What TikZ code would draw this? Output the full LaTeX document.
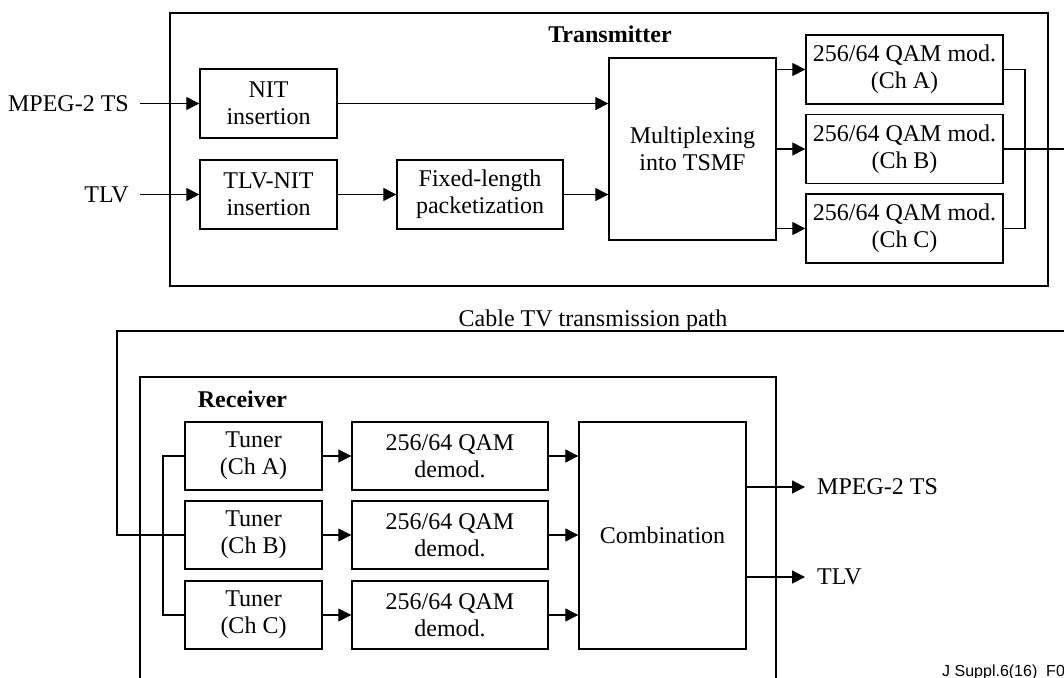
\documentclass[tikz,border=0pt]{standalone}
\usepackage{fontspec}
\setmainfont{Liberation Serif}
\newfontfamily\figidfont{Liberation Sans}
\usetikzlibrary{arrows.meta}

\begin{document}
\begin{tikzpicture}[x=1pt,y=-1pt,
  font=\fontsize{24}{27}\selectfont,
  blk/.style={draw, line width=1.4pt, align=center, inner sep=0pt, minimum height=69pt},
  frm/.style={line width=2.4pt},
  wire/.style={line width=1.3pt},
  arr/.style={wire, -{Triangle[length=13pt,width=13pt]}},
  lbl/.style={inner sep=0pt}]

  \useasboundingbox (0,0) rectangle (1064,677);
  \clip (0,0) rectangle (1064,677);

  % transmitter side
  \draw[frm] (170,13) rectangle (1048,286);% frame
  \node[lbl, anchor=base, font=\fontsize{24}{27}\selectfont\bfseries] (txlab) at (610,43) {Transmitter};
  \node[lbl, anchor=east] (tsin) at (129,103.5) {MPEG-2 TS};
  \node[lbl, anchor=east] (tlvin) at (129,194.5) {TLV};
  \node[blk, minimum width=137pt] (nit) at (268.5,103.5) {NIT\\insertion};
  \node[blk, minimum width=137pt] (tlvnit) at (268.5,194.5) {TLV-NIT\\insertion};
  \node[blk, minimum width=166pt] (fixlen) at (480,194.5) {Fixed-length\\packetization};
  \node[blk, minimum width=167pt, minimum height=182pt] (mux) at (692.5,149) {Multiplexing\\into TSMF};
  \foreach \ch/\y in {A/69.5,B/149,C/228.5}
    \node[blk, minimum width=197pt] (qam\ch) at (904.5,\y) {256/64 QAM mod.\\(Ch \ch)};

  \draw[arr, shorten <=11pt] (tsin.east) -- (nit.west);
  \draw[arr, shorten <=11pt] (tlvin.east) -- (tlvnit.west);
  \draw[arr] (nit.east) -- (nit.east -| mux.west);
  \draw[arr] (tlvnit) -- (fixlen);
  \draw[arr] (fixlen.east) -- (fixlen.east -| mux.west);
  \foreach \ch in {A,B,C}
    \draw[arr] (mux.east |- qam\ch.west) -- (qam\ch.west);

  % channel bus and cable path
  \coordinate (txbus) at (1025,149);
  \coordinate (txout) at (1070,149);
  \coordinate (rxin) at (1070,331);
  \coordinate (cableL) at (117,331);
  \draw[wire] (qamA.east) -| (txbus) |- (qamC.east);
  \draw[wire] (qamB.east) -- (txout);
  \node[lbl, anchor=base] (cablelab) at (593,326) {Cable TV transmission path};

  % receiver side
  \draw[frm] (140,377) rectangle (776,700);% frame, runs off the bottom
  \node[lbl, anchor=base, font=\fontsize{24}{27}\selectfont\bfseries] (rxlab) at (242.5,407) {Receiver};
  \foreach \ch/\y in {A/456,B/535,C/615}{
    \node[blk, minimum width=137pt, minimum height=68pt] (tuner\ch) at (253.5,\y) {Tuner\\(Ch \ch)};
    \node[blk, minimum width=196pt, minimum height=68pt] (demod\ch) at (450,\y) {256/64 QAM\\demod.};
    \draw[arr] (tuner\ch) -- (demod\ch);
  }
  \node[blk, minimum width=167pt, minimum height=227pt] (comb) at (662.5,535.5) {Combination};
  \foreach \ch in {A,B,C}
    \draw[arr] (demod\ch.east) -- (demod\ch.east -| comb.west);

  \coordinate (rxbus) at (163,535);
  \draw[wire] (tunerA.west) -| (rxbus) |- (tunerC.west);
  \draw[wire] (rxin) -- (cableL) |- (tunerB.west);

  \node[lbl, anchor=west] (tsout) at (817,487) {MPEG-2 TS};
  \node[lbl, anchor=west] (tlvout) at (817,577) {TLV};
  \draw[arr, shorten >=12pt] (comb.east |- tsout.west) -- (tsout.west);
  \draw[arr, shorten >=12pt] (comb.east |- tlvout.west) -- (tlvout.west);

  \node[lbl, anchor=base west, font=\figidfont\fontsize{16}{18}\selectfont] (figid) at (942,676) {J Suppl.6(16)\_F0};

\end{tikzpicture}
\end{document}
